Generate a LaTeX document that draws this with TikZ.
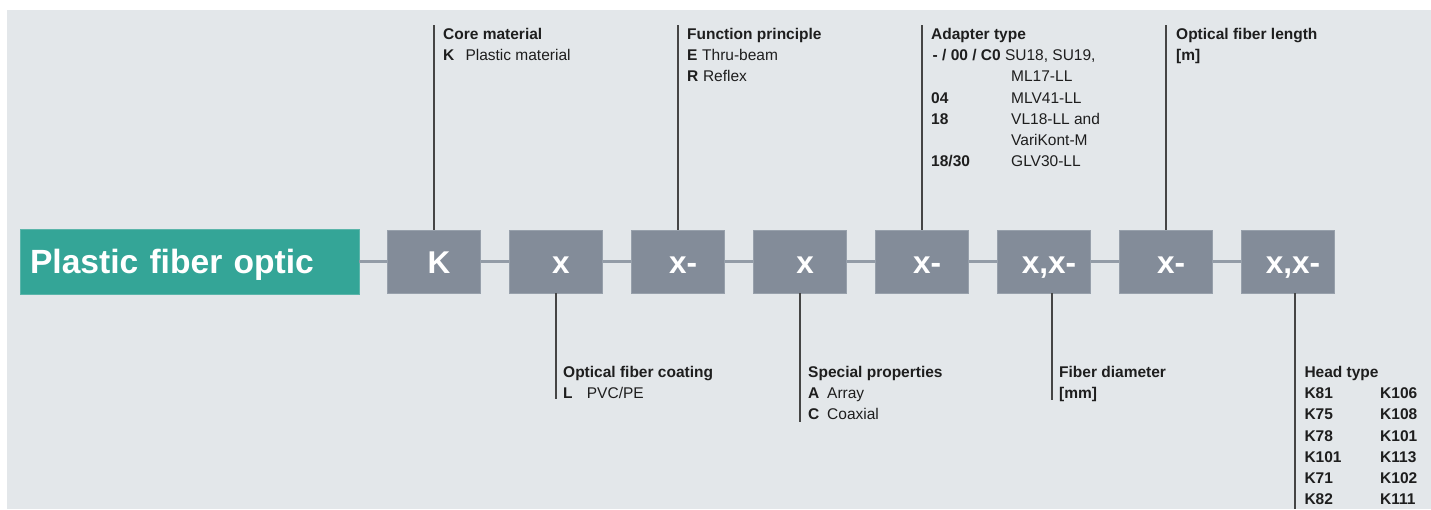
\documentclass[tikz,border=0pt]{standalone}
\usepackage{fontspec}
\setmainfont{Liberation Sans}
\definecolor{bg}{HTML}{E3E7EA}
\definecolor{boxgray}{HTML}{838C99}
\definecolor{boxedge}{HTML}{97A0AB}
\definecolor{tealfill}{HTML}{34A597}
\definecolor{tealedge}{HTML}{5BB5AA}
\definecolor{linkgray}{HTML}{939CA7}
\definecolor{tickgray}{HTML}{454545}
\definecolor{textblack}{HTML}{1E1E1E}
\newcommand\lblfont{\fontsize{15.5}{21.25}\selectfont}
\newcommand\boxfont{\fontsize{31.5}{36}\selectfont\bfseries}
\newcommand\titlefont{\fontsize{33.6}{40}\selectfont\bfseries}
\tikzset{
  codebox/.style={rectangle, fill=boxgray, draw=boxedge, line width=0.8pt,
    minimum width=93pt, minimum height=63pt, inner sep=0pt, text=white,
    font=\boxfont, text height=23.6pt, text depth=0pt},
  titlebox/.style={rectangle, fill=tealfill, draw=tealedge, line width=0.8pt,
    text width=319pt, align=left, inner xsep=10pt, inner ysep=0pt,
    minimum height=65pt, text=white, font=\titlefont,
    text height=23.6pt, text depth=0pt},
  link/.style={draw=linkgray, line width=3pt},
  tick/.style={draw=tickgray, line width=1.5pt},
  lbl/.style={anchor=base west, inner sep=0pt, font=\lblfont, text=textblack},
}
\begin{document}
\begin{tikzpicture}[x=1pt,y=-1pt]
\useasboundingbox (0,0) rectangle (1431,509);
\fill[bg] (7,10) rectangle (1431,509);

% boxes
\node[titlebox] (pfo) at (189.5,261.5) {Plastic fiber optic};
\node[codebox] (b1) at (434,261.5) {\hspace*{10pt}K};
\node[codebox] (b2) at (556,261.5) {\hspace*{10pt}x};
\node[codebox] (b3) at (678,261.5) {\hspace*{10pt}x-};
\node[codebox] (b4) at (800,261.5) {\hspace*{10pt}x};
\node[codebox] (b5) at (922,261.5) {\hspace*{10pt}x-};
\node[codebox] (b6) at (1044,261.5) {\hspace*{10pt}x,x-};
\node[codebox] (b7) at (1166,261.5) {\hspace*{10pt}x-};
\node[codebox] (b8) at (1288,261.5) {\hspace*{10pt}x,x-};

% chain
\draw[link] (pfo.east) -- (b1.west);
\draw[link] (b1.east) -- (b2.west);
\draw[link] (b2.east) -- (b3.west);
\draw[link] (b3.east) -- (b4.west);
\draw[link] (b4.east) -- (b5.west);
\draw[link] (b5.east) -- (b6.west);
\draw[link] (b6.east) -- (b7.west);
\draw[link] (b7.east) -- (b8.west);

% up ticks
\coordinate (t1) at (434,25);
\coordinate (t3) at (678,25);
\coordinate (t5) at (922,25);
\coordinate (t7) at (1166,25);
\draw[tick] (t1) -- (b1.north);
\draw[tick] (t3) -- (b3.north);
\draw[tick] (t5) -- (b5.north);
\draw[tick] (t7) -- (b7.north);

% down ticks
\coordinate (d2) at (556,399);
\coordinate (d4) at (800,422);
\coordinate (d6) at (1052,400);
\coordinate (d8) at (1295,509);
\draw[tick] (b2.south) -- (d2);
\draw[tick] (b4.south) -- (d4);
\draw[tick] (b6.south -| d6) -- (d6);
\draw[tick] (b8.south -| d8) -- (d8);

% top labels
\node[lbl] (lcore) at (443,39.3) {\begin{tabular}[t]{@{}l@{}}\textbf{Core material}\\
  \makebox[22.3pt][l]{\textbf{K}}Plastic material\end{tabular}};
\node[lbl] (lfunc) at (687,39.3) {\begin{tabular}[t]{@{}l@{}}\textbf{Function principle}\\
  \makebox[15pt][l]{\textbf{E}}Thru-beam\\
  \makebox[15.8pt][l]{\textbf{R}}Reflex\end{tabular}};
\node[lbl] (ladapt) at (931,39.3) {\begin{tabular}[t]{@{}l@{}}\textbf{Adapter type}\\
  \hspace*{1.5pt}\textbf{- / 00 / C0} SU18, SU19,\\
  \hspace*{80pt}ML17-LL\\
  \makebox[80pt][l]{\textbf{04}}MLV41-LL\\
  \makebox[80pt][l]{\textbf{18}}VL18-LL and\\
  \hspace*{80pt}VariKont-M\\
  \makebox[80pt][l]{\textbf{18/30}}GLV30-LL\end{tabular}};
\node[lbl] (llen) at (1176,39.3) {\begin{tabular}[t]{@{}l@{}}\textbf{Optical fiber length}\\
  \textbf{[m]}\end{tabular}};

% bottom labels
\node[lbl] (lcoat) at (563,377.3) {\begin{tabular}[t]{@{}l@{}}\textbf{Optical fiber coating}\\
  \makebox[23.7pt][l]{\textbf{L}}PVC/PE\end{tabular}};
\node[lbl] (lspec) at (808,377.3) {\begin{tabular}[t]{@{}l@{}}\textbf{Special properties}\\
  \makebox[19pt][l]{\textbf{A}}Array\\
  \makebox[19pt][l]{\textbf{C}}Coaxial\end{tabular}};
\node[lbl] (ldiam) at (1059,377.3) {\begin{tabular}[t]{@{}l@{}}\textbf{Fiber diameter}\\
  \textbf{[mm]}\end{tabular}};
\node[lbl] (lhead) at (1304.3,377.3) {\bfseries\begin{tabular}[t]{@{}l@{}}Head type\\
  \makebox[75.7pt][l]{K81}K106\\
  \makebox[75.7pt][l]{K75}K108\\
  \makebox[75.7pt][l]{K78}K101\\
  \makebox[75.7pt][l]{K101}K113\\
  \makebox[75.7pt][l]{K71}K102\\
  \makebox[75.7pt][l]{K82}K111\end{tabular}};
\end{tikzpicture}
\end{document}
